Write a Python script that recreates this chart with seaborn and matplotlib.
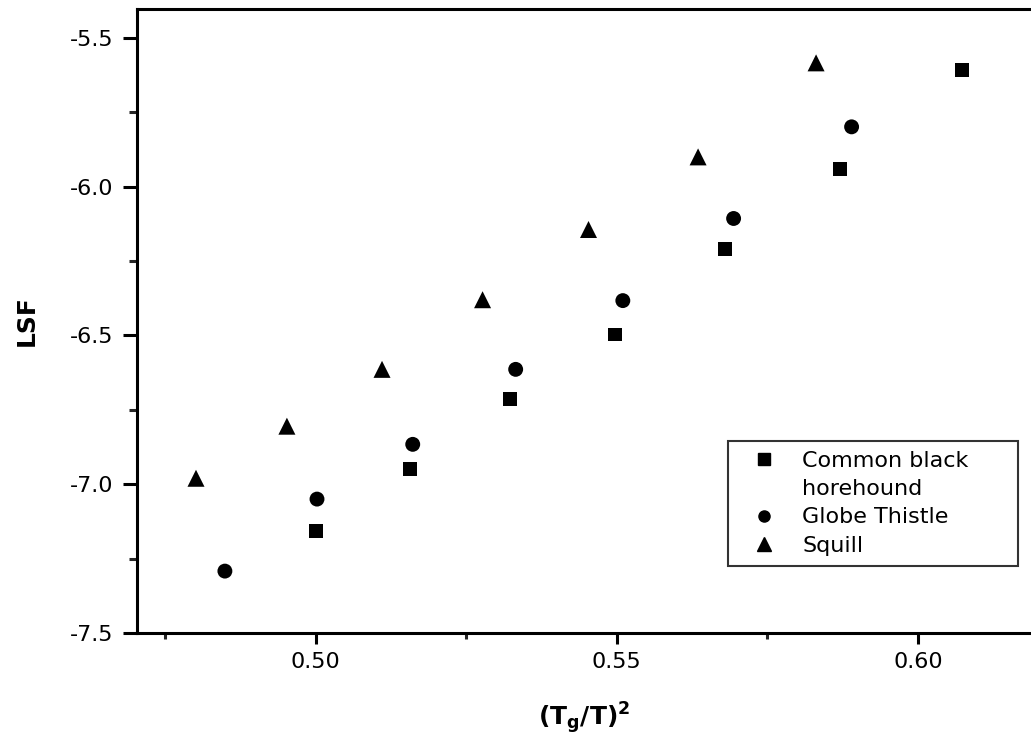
import matplotlib
matplotlib.use("Agg")
import matplotlib.pyplot as plt
import seaborn as sns
import pandas as pd
from matplotlib.ticker import MultipleLocator, FormatStrFormatter
from matplotlib.lines import Line2D

# Data
x_horehound = [0.500, 0.5156, 0.5322, 0.5497, 0.5679, 0.5870, 0.6073]
y_horehound = [-7.158, -6.950, -6.715, -6.497, -6.211, -5.940, -5.607]
x_thistle = [0.4849, 0.5002, 0.5161, 0.5332, 0.5510, 0.5694, 0.5890]
y_thistle = [-7.292, -7.050, -6.866, -6.614, -6.383, -6.107, -5.799]
x_squill = [0.4801, 0.4952, 0.5110, 0.5277, 0.5453, 0.5635, 0.5831]
y_squill = [-6.980, -6.805, -6.614, -6.380, -6.144, -5.900, -5.584]
series_names = ["Common black horehound", "Globe Thistle", "Squill"]
legend_lines = [["Common black", "horehound"], ["Globe Thistle"], ["Squill"]]

sns.set_style("white")
plt.rcParams["font.family"] = ["DejaVu Sans"]
plt.rcParams["mathtext.fontset"] = "dejavusans"
plt.rcParams["text.color"] = "black"
plt.rcParams["axes.labelcolor"] = "black"

df = pd.concat([
    pd.DataFrame({"x": x_horehound, "y": y_horehound, "series": series_names[0]}),
    pd.DataFrame({"x": x_thistle, "y": y_thistle, "series": series_names[1]}),
    pd.DataFrame({"x": x_squill, "y": y_squill, "series": series_names[2]}),
])

fig = plt.figure(figsize=(10.31, 7.40), dpi=100)
ax = fig.add_axes([137 / 1031, 1 - 633 / 740, 1 - 137 / 1031, (633 - 9) / 740])

markers = {series_names[0]: "s", series_names[1]: "o", series_names[2]: "^"}
sizes_map = {series_names[0]: 100, series_names[1]: 115, series_names[2]: 150}
for name in series_names:
    sub = df[df["series"] == name]
    sns.scatterplot(data=sub, x="x", y="y", marker=markers[name], color="black",
                    s=sizes_map[name], edgecolor="none", ax=ax, legend=False)

ax.set_xlim(0.4703, 0.6188)
ax.set_ylim(-7.5, -5.403)
ax.xaxis.set_major_locator(MultipleLocator(0.05))
ax.xaxis.set_minor_locator(MultipleLocator(0.025))
ax.yaxis.set_major_locator(MultipleLocator(0.5))
ax.yaxis.set_minor_locator(MultipleLocator(0.25))
ax.xaxis.set_major_formatter(FormatStrFormatter("%.2f"))
ax.yaxis.set_major_formatter(FormatStrFormatter("%.1f"))

for side in ["left", "top", "bottom"]:
    ax.spines[side].set_visible(True)
    ax.spines[side].set_linewidth(2.2)
    ax.spines[side].set_color("black")
ax.spines["right"].set_visible(False)

ax.tick_params(axis="x", which="major", direction="out", length=8, width=2.2,
               labelsize=16, colors="black", pad=6, bottom=True)
ax.tick_params(axis="y", which="major", direction="out", length=10, width=2.2,
               labelsize=16, colors="black", pad=7, left=True)
ax.tick_params(axis="x", which="minor", direction="out", length=4.5, width=2.2, bottom=True)
ax.tick_params(axis="y", which="minor", direction="out", length=5.5, width=2.2, left=True)

ax.set_xlabel(r"$\mathbf{(T_g/T)^2}$", fontsize=18, labelpad=20, color="black")
ax.set_ylabel("LSF", fontsize=18, fontweight="bold", labelpad=22, color="black")

# legend: square on first text line, as in the reference
handles = []
labels = []
for name, lines in zip(series_names, legend_lines):
    handles.append(Line2D([], [], linestyle="none", marker=markers[name], color="black",
                          markersize=8 if markers[name] != "^" else 10))
    labels.append(lines[0])
    for extra in lines[1:]:
        handles.append(Line2D([], [], linestyle="none", marker=None))
        labels.append(extra)

leg = ax.legend(handles, labels, loc="upper left",
                bbox_to_anchor=((728 - 137) / 894, (633 - 566) / 624, 290 / 894, 125 / 624),
                mode="expand", fontsize=16, frameon=True, fancybox=False,
                handletextpad=0.6, borderpad=0.45, labelspacing=0.37,
                borderaxespad=0.0, handlelength=2.3)
leg.get_frame().set_edgecolor("black")
leg.get_frame().set_linewidth(1.5)
for t in leg.get_texts():
    t.set_color("black")

fig.savefig("out.png", dpi=100)
